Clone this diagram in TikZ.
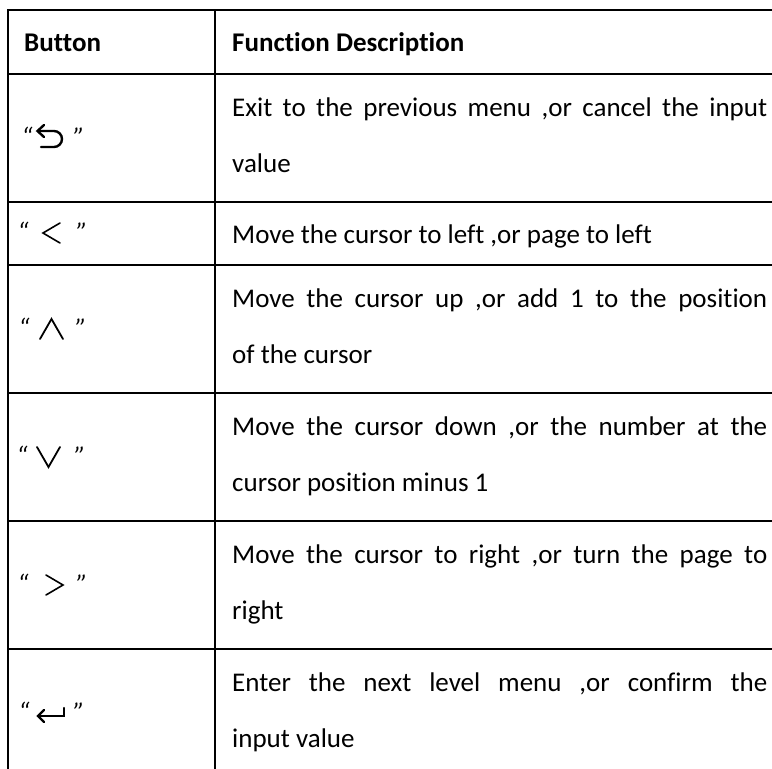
\documentclass[tikz,border=0pt]{standalone}
\usepackage{fontspec}
\setmainfont{Carlito}[RawFeature=-liga]
\begin{document}
\begin{tikzpicture}[x=1pt,y=-1pt,
  rule/.style={line width=1.8pt,line cap=rect},
  txt/.style={anchor=base west,inner sep=0pt,font=\fontsize{27}{31}\selectfont},
  hdr/.style={txt,font=\fontsize{27}{31}\selectfont\bfseries},
  quo/.style={anchor=center,inner sep=0pt,font=\fontsize{27}{31}\selectfont\itshape},
  icon/.style={line width=1.6pt,line cap=round,line join=miter}]
\useasboundingbox (0,0) rectangle (772,769);
\fill[white] (0,0) rectangle (772,769);
% rules
\foreach \yy in {10,74,202,265,393,521,649}
  \draw[rule] (8,\yy) -- (780,\yy);
\draw[rule] (8,10) -- (8,780);
\draw[rule] (215,10) -- (215,780);
% header
\node[hdr] (hb) at (24,51) {Button};
\node[hdr] (hf) at (232,51) {Function Description};
% descriptions
\newcommand{\jline}[1]{\makebox[535pt][s]{#1}}
\node[txt] (d1a) at (232,116) {\jline{Exit to the previous menu ,or cancel the input}};
\node[txt] (d1b) at (232,172) {value};
\node[txt] (d2a) at (232,243) {Move the cursor to left ,or page to left};
\node[txt] (d3a) at (232,307) {\jline{Move the cursor up ,or add 1 to the position}};
\node[txt] (d3b) at (232,363) {of the cursor};
\node[txt] (d4a) at (232,435) {\jline{Move the cursor down ,or the number at the}};
\node[txt] (d4b) at (232,491) {cursor position minus 1};
\node[txt] (d5a) at (232,563) {\jline{Move the cursor to right ,or turn the page to}};
\node[txt] (d5b) at (232,619) {right};
\node[txt] (d6a) at (232,691) {\jline{Enter the next level menu ,or confirm the}};
\node[txt] (d6b) at (232,747) {input value};
% quotes
\foreach \n/\yc/\xl/\xr in {1/138/27/79, 2/233/23/82, 3/329/24/81, 4/457/22/80, 5/585/23/82, 6/713/24/79}{
  \node[quo] (ql\n) at (\xl,\yc-1) {“};
  \node[quo] (qr\n) at (\xr,\yc-1) {”};
}
% icons
% row 1: u-turn back arrow
\draw[icon,line width=2.4pt] (38,131) -- (54,131) arc[start angle=-90,end angle=90,radius=8] -- (41,147);
\draw[icon,line width=2.4pt] (44,125) -- (37.5,131) -- (44,137);
% row 2: <
\draw[icon] (60,223) -- (43,233) -- (60,243);
% row 3: ^
\draw[icon,line width=1.8pt] (40,339) -- (51.5,319) -- (63,339);
% row 4: v
\draw[icon,line width=1.8pt] (37,447) -- (48.5,467) -- (60,447);
% row 5: >
\draw[icon] (46,575) -- (63,585) -- (46,595);
% row 6: enter arrow
\draw[icon,line width=2.4pt] (38,716) -- (64,716) -- (64,708);
\draw[icon,line width=2.4pt] (44,710) -- (38,716) -- (44,722);
\end{tikzpicture}
\end{document}
